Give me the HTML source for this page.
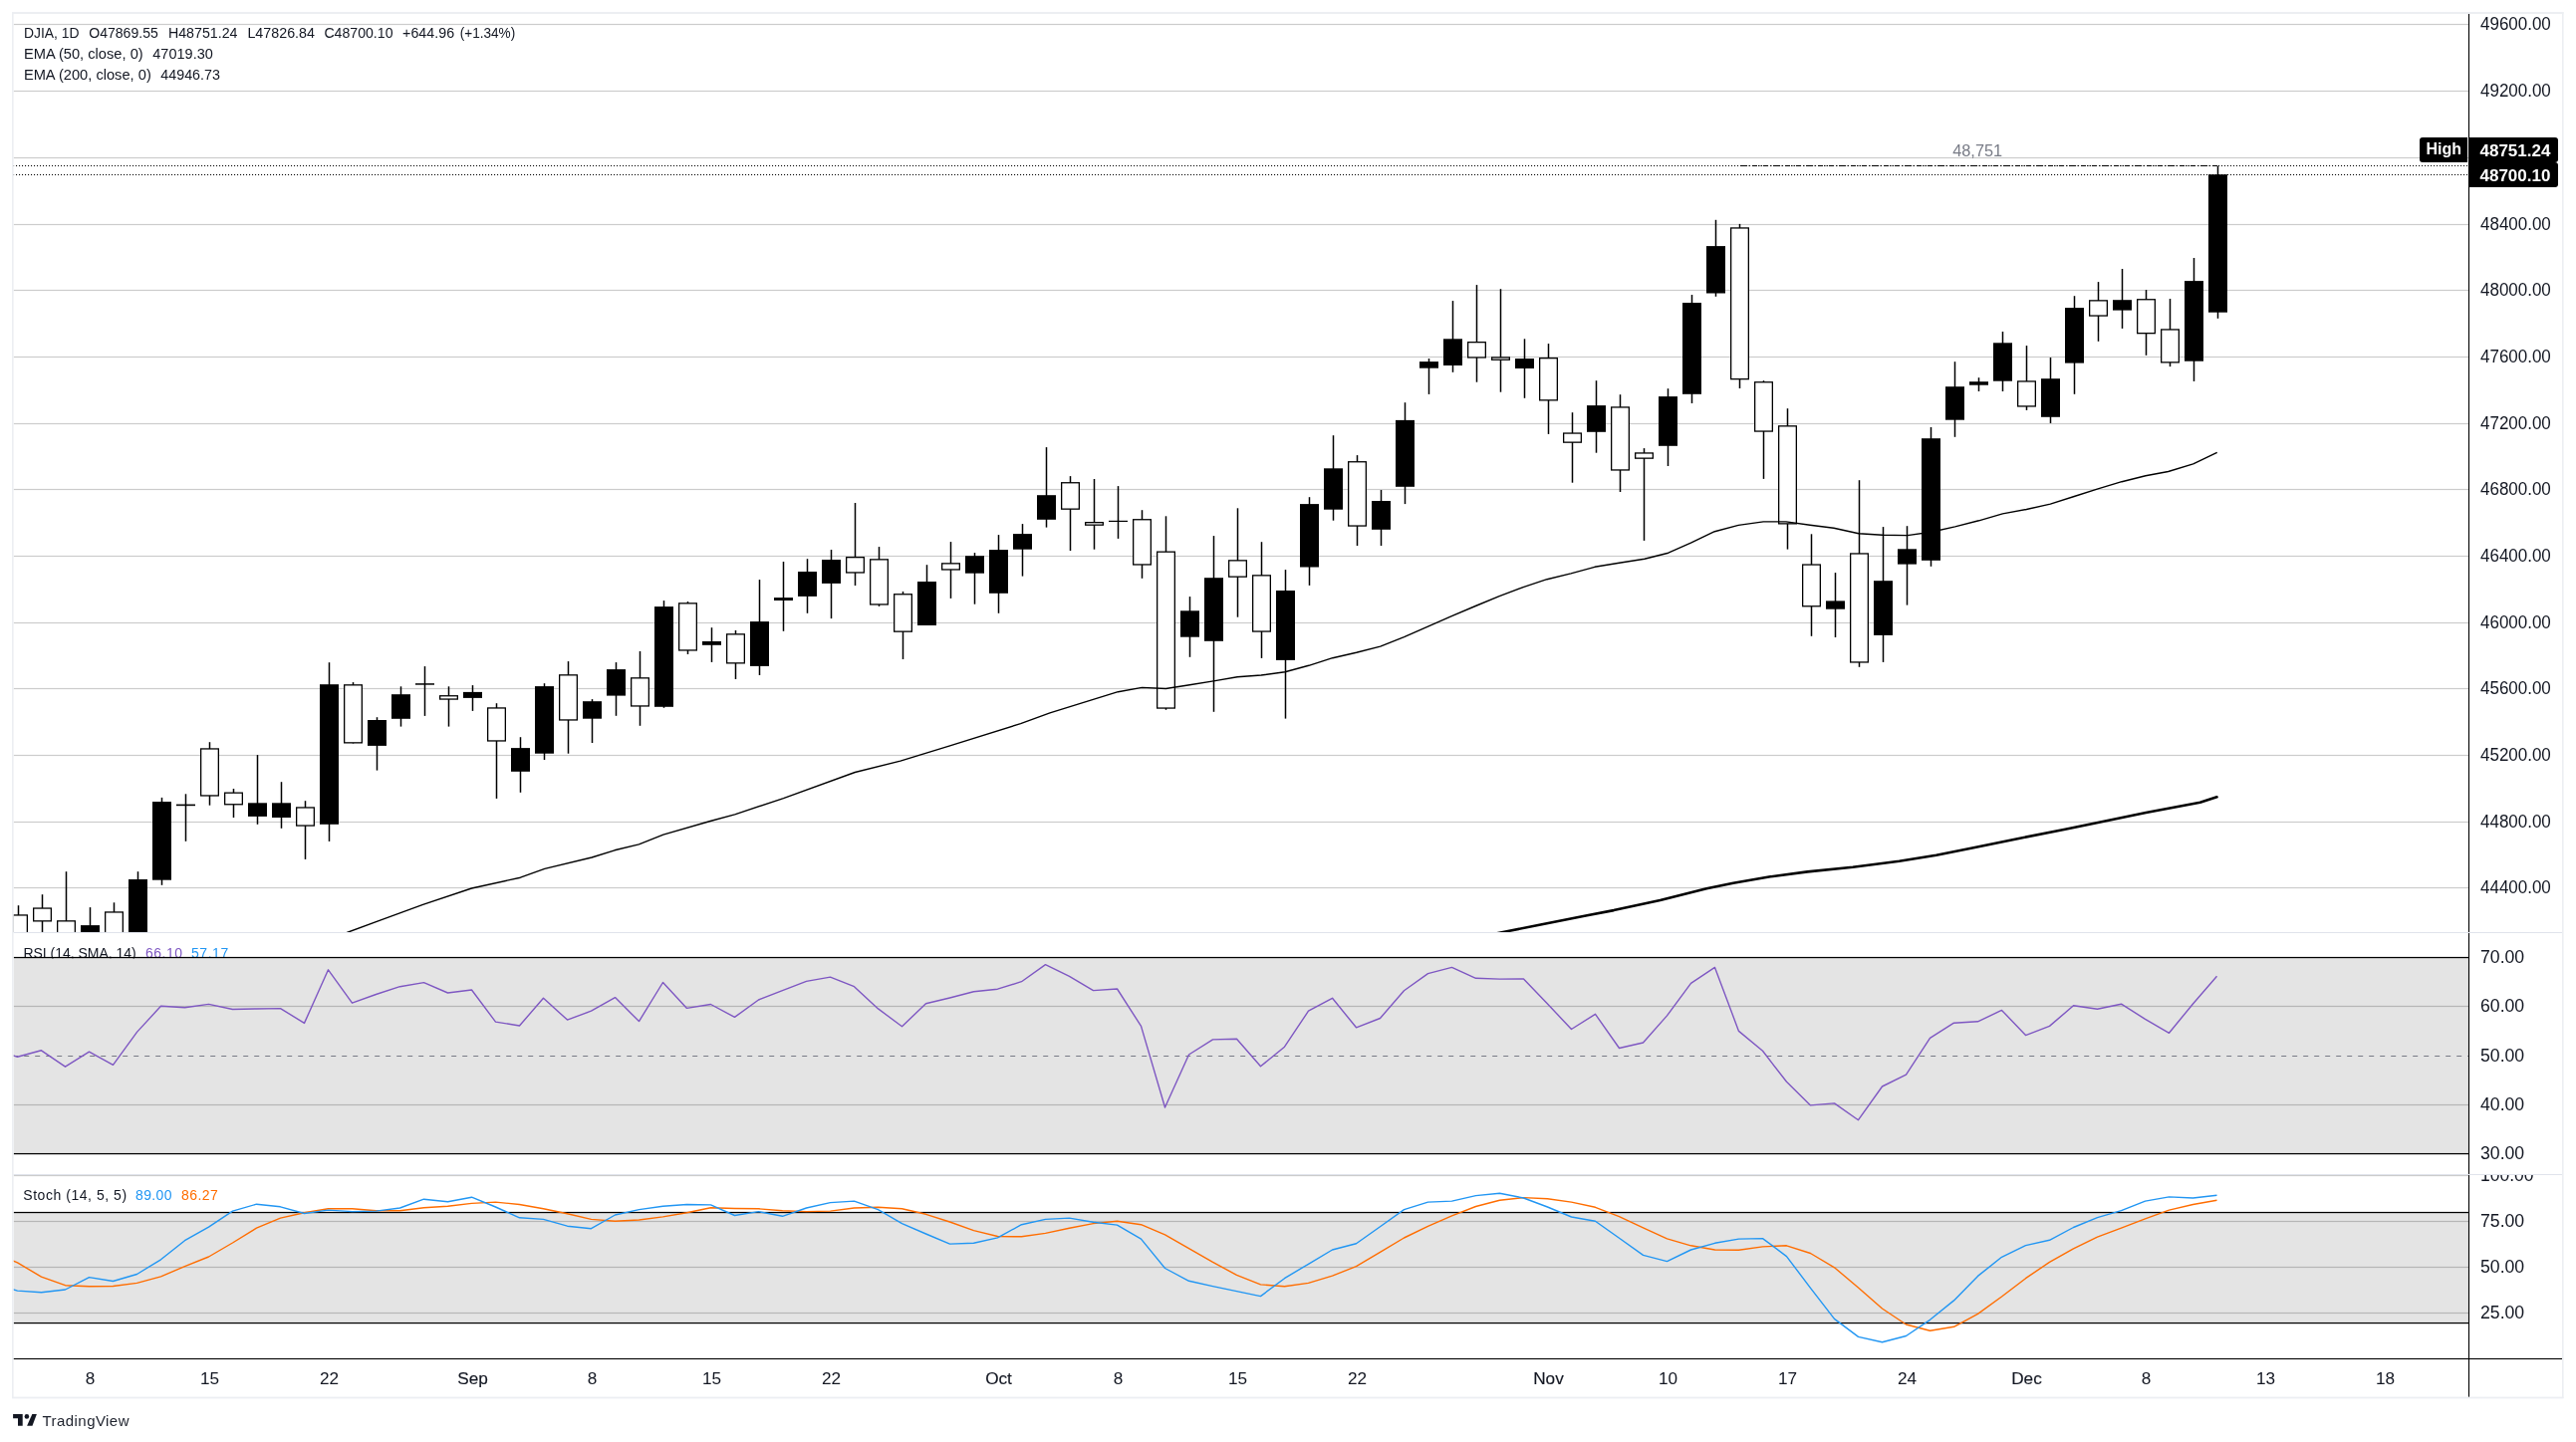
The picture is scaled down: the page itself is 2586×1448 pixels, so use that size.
<!DOCTYPE html><html><head><meta charset="utf-8"><style>html,body{margin:0;padding:0;background:#fff;}svg{display:block;will-change:transform;}text{font-family:"Liberation Sans",sans-serif;}</style></head><body>
<svg width="2586" height="1448" viewBox="0 0 2586 1448">
<defs><clipPath id="cm"><rect x="13.5" y="14" width="2464.5" height="922"/></clipPath><clipPath id="cr"><rect x="13.5" y="937" width="2464.5" height="243"/></clipPath><clipPath id="cs"><rect x="13.5" y="1180" width="2464.5" height="184"/></clipPath><clipPath id="cra"><rect x="2478.6" y="937" width="100" height="243"/></clipPath><clipPath id="csa"><rect x="2478.6" y="1180" width="100" height="184"/></clipPath></defs>
<rect x="0" y="0" width="2586" height="1448" fill="#ffffff"/>
<g clip-path="url(#cm)">
<rect x="13.5" y="23.9" width="2465.1" height="1.2" fill="rgba(0,0,0,0.2)"/>
<rect x="13.5" y="90.9" width="2465.1" height="1.2" fill="rgba(0,0,0,0.2)"/>
<rect x="13.5" y="157.9" width="2465.1" height="1.2" fill="rgba(0,0,0,0.2)"/>
<rect x="13.5" y="224.9" width="2465.1" height="1.2" fill="rgba(0,0,0,0.2)"/>
<rect x="13.5" y="290.9" width="2465.1" height="1.2" fill="rgba(0,0,0,0.2)"/>
<rect x="13.5" y="357.9" width="2465.1" height="1.2" fill="rgba(0,0,0,0.2)"/>
<rect x="13.5" y="424.9" width="2465.1" height="1.2" fill="rgba(0,0,0,0.2)"/>
<rect x="13.5" y="490.9" width="2465.1" height="1.2" fill="rgba(0,0,0,0.2)"/>
<rect x="13.5" y="557.9" width="2465.1" height="1.2" fill="rgba(0,0,0,0.2)"/>
<rect x="13.5" y="624.9" width="2465.1" height="1.2" fill="rgba(0,0,0,0.2)"/>
<rect x="13.5" y="690.9" width="2465.1" height="1.2" fill="rgba(0,0,0,0.2)"/>
<rect x="13.5" y="757.9" width="2465.1" height="1.2" fill="rgba(0,0,0,0.2)"/>
<rect x="13.5" y="824.9" width="2465.1" height="1.2" fill="rgba(0,0,0,0.2)"/>
<rect x="13.5" y="890.9" width="2465.1" height="1.2" fill="rgba(0,0,0,0.2)"/>
<line x1="13" y1="166.5" x2="2477" y2="166.5" stroke="#000" stroke-width="1.1" stroke-dasharray="1.1 1.9"/>
<line x1="13" y1="175.5" x2="2477" y2="175.5" stroke="#000" stroke-width="1.1" stroke-dasharray="1.1 1.9"/>
<line x1="1748" y1="166.5" x2="2227" y2="166.5" stroke="#000" stroke-width="1.2" stroke-dasharray="5 2.5 1 2.5"/>
<text x="1960.2" y="157.1" font-size="17" fill="#787b86" textLength="50" lengthAdjust="spacingAndGlyphs">48,751</text>
<rect x="17.75" y="909.2" width="1.5" height="60.8" fill="#000"/>
<rect x="9" y="918.3" width="19.0" height="41.7" fill="#000"/>
<rect x="10.3" y="919.6" width="16.4" height="39.1" fill="#fff"/>
<rect x="41.75" y="898.2" width="1.5" height="61.8" fill="#000"/>
<rect x="33" y="911.4" width="19.0" height="14.1" fill="#000"/>
<rect x="34.3" y="912.7" width="16.4" height="11.5" fill="#fff"/>
<rect x="65.75" y="875.2" width="1.5" height="94.8" fill="#000"/>
<rect x="57" y="924.2" width="19.0" height="35.8" fill="#000"/>
<rect x="58.3" y="925.5" width="16.4" height="33.2" fill="#fff"/>
<rect x="89.75" y="911.1" width="1.5" height="58.9" fill="#000"/>
<rect x="81" y="929.1" width="19.0" height="30.9" fill="#000"/>
<rect x="113.75" y="906.3" width="1.5" height="63.7" fill="#000"/>
<rect x="105" y="915.3" width="19.0" height="44.7" fill="#000"/>
<rect x="106.3" y="916.6" width="16.4" height="42.1" fill="#fff"/>
<rect x="137.75" y="875.2" width="1.5" height="94.8" fill="#000"/>
<rect x="129" y="883" width="19.0" height="77" fill="#000"/>
<rect x="161.75" y="800.9" width="1.5" height="87.9" fill="#000"/>
<rect x="153" y="805" width="19.0" height="78.7" fill="#000"/>
<rect x="185.75" y="797.3" width="1.5" height="47.5" fill="#000"/>
<rect x="177" y="807.6" width="19.0" height="1.6" fill="#000"/>
<rect x="209.75" y="745.2" width="1.5" height="63.5" fill="#000"/>
<rect x="201" y="751.3" width="19.0" height="48.3" fill="#000"/>
<rect x="202.3" y="752.6" width="16.4" height="45.7" fill="#fff"/>
<rect x="233.75" y="792" width="1.5" height="29" fill="#000"/>
<rect x="225" y="795.5" width="19.0" height="12.9" fill="#000"/>
<rect x="226.3" y="796.8" width="16.4" height="10.3" fill="#fff"/>
<rect x="257.75" y="758.1" width="1.5" height="69.7" fill="#000"/>
<rect x="249" y="806.3" width="19.0" height="13.6" fill="#000"/>
<rect x="281.75" y="785.2" width="1.5" height="46.6" fill="#000"/>
<rect x="273" y="806.3" width="19.0" height="14.7" fill="#000"/>
<rect x="305.75" y="804.2" width="1.5" height="58.7" fill="#000"/>
<rect x="297" y="810.3" width="19.0" height="19.4" fill="#000"/>
<rect x="298.3" y="811.6" width="16.4" height="16.8" fill="#fff"/>
<rect x="329.75" y="665.2" width="1.5" height="179.7" fill="#000"/>
<rect x="321" y="687.2" width="19.0" height="140.6" fill="#000"/>
<rect x="353.75" y="685.1" width="1.5" height="61.4" fill="#000"/>
<rect x="345" y="687.2" width="19.0" height="59.3" fill="#000"/>
<rect x="346.3" y="688.5" width="16.4" height="56.7" fill="#fff"/>
<rect x="377.75" y="720.2" width="1.5" height="53.4" fill="#000"/>
<rect x="369" y="723" width="19.0" height="25.9" fill="#000"/>
<rect x="401.75" y="689.3" width="1.5" height="40.3" fill="#000"/>
<rect x="393" y="697.2" width="19.0" height="24.6" fill="#000"/>
<rect x="425.75" y="669.1" width="1.5" height="49.8" fill="#000"/>
<rect x="417" y="686.2" width="19.0" height="1.5" fill="#000"/>
<rect x="449.75" y="689.3" width="1.5" height="40.3" fill="#000"/>
<rect x="441" y="698.1" width="19.0" height="4.6" fill="#000"/>
<rect x="442.3" y="699.4" width="16.4" height="2" fill="#fff"/>
<rect x="473.75" y="688.1" width="1.5" height="25.8" fill="#000"/>
<rect x="465" y="694.9" width="19.0" height="6" fill="#000"/>
<rect x="497.75" y="706.2" width="1.5" height="95.7" fill="#000"/>
<rect x="489" y="710.3" width="19.0" height="34.3" fill="#000"/>
<rect x="490.3" y="711.6" width="16.4" height="31.7" fill="#fff"/>
<rect x="521.75" y="740.2" width="1.5" height="55.6" fill="#000"/>
<rect x="513" y="751.1" width="19.0" height="23.7" fill="#000"/>
<rect x="545.75" y="686.2" width="1.5" height="76.8" fill="#000"/>
<rect x="537" y="689.1" width="19.0" height="67.6" fill="#000"/>
<rect x="569.75" y="664.1" width="1.5" height="92.6" fill="#000"/>
<rect x="561" y="677.2" width="19.0" height="46.4" fill="#000"/>
<rect x="562.3" y="678.5" width="16.4" height="43.8" fill="#fff"/>
<rect x="593.75" y="702.1" width="1.5" height="43.9" fill="#000"/>
<rect x="585" y="704.2" width="19.0" height="17.5" fill="#000"/>
<rect x="617.75" y="665.1" width="1.5" height="53.7" fill="#000"/>
<rect x="609" y="672.1" width="19.0" height="26.5" fill="#000"/>
<rect x="641.75" y="654" width="1.5" height="74.8" fill="#000"/>
<rect x="633" y="680.2" width="19.0" height="29.4" fill="#000"/>
<rect x="634.3" y="681.5" width="16.4" height="26.8" fill="#fff"/>
<rect x="665.75" y="603.1" width="1.5" height="107.7" fill="#000"/>
<rect x="657" y="609.1" width="19.0" height="100.7" fill="#000"/>
<rect x="689.75" y="604" width="1.5" height="53" fill="#000"/>
<rect x="681" y="605.2" width="19.0" height="48.4" fill="#000"/>
<rect x="682.3" y="606.5" width="16.4" height="45.8" fill="#fff"/>
<rect x="713.75" y="630.2" width="1.5" height="34.7" fill="#000"/>
<rect x="705" y="644" width="19.0" height="3.8" fill="#000"/>
<rect x="737.75" y="633" width="1.5" height="49" fill="#000"/>
<rect x="729" y="636.2" width="19.0" height="30.3" fill="#000"/>
<rect x="730.3" y="637.5" width="16.4" height="27.7" fill="#fff"/>
<rect x="761.75" y="582.1" width="1.5" height="95.9" fill="#000"/>
<rect x="753" y="624.1" width="19.0" height="44.8" fill="#000"/>
<rect x="785.75" y="564" width="1.5" height="69.8" fill="#000"/>
<rect x="777" y="600.1" width="19.0" height="2.9" fill="#000"/>
<rect x="809.75" y="561.2" width="1.5" height="54.6" fill="#000"/>
<rect x="801" y="574" width="19.0" height="24.9" fill="#000"/>
<rect x="833.75" y="552" width="1.5" height="69.1" fill="#000"/>
<rect x="825" y="562" width="19.0" height="23.9" fill="#000"/>
<rect x="857.75" y="505" width="1.5" height="83" fill="#000"/>
<rect x="849" y="559" width="19.0" height="16.6" fill="#000"/>
<rect x="850.3" y="560.3" width="16.4" height="14" fill="#fff"/>
<rect x="881.75" y="549.1" width="1.5" height="59.8" fill="#000"/>
<rect x="873" y="561.2" width="19.0" height="46.4" fill="#000"/>
<rect x="874.3" y="562.5" width="16.4" height="43.8" fill="#fff"/>
<rect x="905.75" y="594" width="1.5" height="68" fill="#000"/>
<rect x="897" y="596.1" width="19.0" height="38.7" fill="#000"/>
<rect x="898.3" y="597.4" width="16.4" height="36.1" fill="#fff"/>
<rect x="929.75" y="567.2" width="1.5" height="60.8" fill="#000"/>
<rect x="921" y="584" width="19.0" height="44" fill="#000"/>
<rect x="953.75" y="544.1" width="1.5" height="56.8" fill="#000"/>
<rect x="945" y="565.2" width="19.0" height="7.4" fill="#000"/>
<rect x="946.3" y="566.5" width="16.4" height="4.8" fill="#fff"/>
<rect x="977.75" y="555.1" width="1.5" height="51.6" fill="#000"/>
<rect x="969" y="558.2" width="19.0" height="17.5" fill="#000"/>
<rect x="1001.75" y="537.1" width="1.5" height="78.7" fill="#000"/>
<rect x="993" y="552.1" width="19.0" height="43.7" fill="#000"/>
<rect x="1025.75" y="526.1" width="1.5" height="52.5" fill="#000"/>
<rect x="1017" y="536.1" width="19.0" height="15.6" fill="#000"/>
<rect x="1049.75" y="449.1" width="1.5" height="80.5" fill="#000"/>
<rect x="1041" y="497.2" width="19.0" height="24.6" fill="#000"/>
<rect x="1073.75" y="478.1" width="1.5" height="74.9" fill="#000"/>
<rect x="1065" y="484.1" width="19.0" height="27.7" fill="#000"/>
<rect x="1066.3" y="485.4" width="16.4" height="25.1" fill="#fff"/>
<rect x="1097.75" y="481" width="1.5" height="70.7" fill="#000"/>
<rect x="1089" y="524" width="19.0" height="3.8" fill="#000"/>
<rect x="1090.3" y="525.3" width="16.4" height="1.2" fill="#fff"/>
<rect x="1121.75" y="488.1" width="1.5" height="52.8" fill="#000"/>
<rect x="1113" y="522.8" width="19.0" height="1.2" fill="#000"/>
<rect x="1145.75" y="512.2" width="1.5" height="68.6" fill="#000"/>
<rect x="1137" y="521.1" width="19.0" height="46.5" fill="#000"/>
<rect x="1138.3" y="522.4" width="16.4" height="43.9" fill="#fff"/>
<rect x="1169.75" y="518.3" width="1.5" height="194.5" fill="#000"/>
<rect x="1161" y="553.5" width="19.0" height="158.2" fill="#000"/>
<rect x="1162.3" y="554.8" width="16.4" height="155.6" fill="#fff"/>
<rect x="1193.75" y="599.1" width="1.5" height="60.7" fill="#000"/>
<rect x="1185" y="613.3" width="19.0" height="26.4" fill="#000"/>
<rect x="1217.75" y="538.1" width="1.5" height="176.7" fill="#000"/>
<rect x="1209" y="580.2" width="19.0" height="63.6" fill="#000"/>
<rect x="1241.75" y="510.3" width="1.5" height="109.4" fill="#000"/>
<rect x="1233" y="562.2" width="19.0" height="17.6" fill="#000"/>
<rect x="1234.3" y="563.5" width="16.4" height="15" fill="#fff"/>
<rect x="1265.75" y="544.2" width="1.5" height="116.7" fill="#000"/>
<rect x="1257" y="577.2" width="19.0" height="57.5" fill="#000"/>
<rect x="1258.3" y="578.5" width="16.4" height="54.9" fill="#fff"/>
<rect x="1289.75" y="572.1" width="1.5" height="149.5" fill="#000"/>
<rect x="1281" y="593" width="19.0" height="69.9" fill="#000"/>
<rect x="1313.75" y="499.2" width="1.5" height="88.7" fill="#000"/>
<rect x="1305" y="506.1" width="19.0" height="63.4" fill="#000"/>
<rect x="1337.75" y="437.2" width="1.5" height="85.5" fill="#000"/>
<rect x="1329" y="470.3" width="19.0" height="41.4" fill="#000"/>
<rect x="1361.75" y="457.1" width="1.5" height="90.9" fill="#000"/>
<rect x="1353" y="463.1" width="19.0" height="65.6" fill="#000"/>
<rect x="1354.3" y="464.4" width="16.4" height="63" fill="#fff"/>
<rect x="1385.75" y="492" width="1.5" height="56" fill="#000"/>
<rect x="1377" y="503" width="19.0" height="28.8" fill="#000"/>
<rect x="1409.75" y="404.2" width="1.5" height="101.9" fill="#000"/>
<rect x="1401" y="421.9" width="19.0" height="66.9" fill="#000"/>
<rect x="1433.75" y="360.1" width="1.5" height="35.8" fill="#000"/>
<rect x="1425" y="363.1" width="19.0" height="6.6" fill="#000"/>
<rect x="1457.75" y="302.1" width="1.5" height="71.7" fill="#000"/>
<rect x="1449" y="340.3" width="19.0" height="26.7" fill="#000"/>
<rect x="1481.75" y="286.1" width="1.5" height="97.6" fill="#000"/>
<rect x="1473" y="343" width="19.0" height="16.6" fill="#000"/>
<rect x="1474.3" y="344.3" width="16.4" height="14" fill="#fff"/>
<rect x="1505.75" y="290.2" width="1.5" height="103.5" fill="#000"/>
<rect x="1497" y="358.3" width="19.0" height="3.6" fill="#000"/>
<rect x="1498.3" y="359.6" width="16.4" height="1" fill="#fff"/>
<rect x="1529.75" y="340.3" width="1.5" height="59.5" fill="#000"/>
<rect x="1521" y="360.1" width="19.0" height="9.9" fill="#000"/>
<rect x="1553.75" y="345.1" width="1.5" height="90.8" fill="#000"/>
<rect x="1545" y="359" width="19.0" height="43.5" fill="#000"/>
<rect x="1546.3" y="360.3" width="16.4" height="40.9" fill="#fff"/>
<rect x="1577.75" y="414.2" width="1.5" height="70.5" fill="#000"/>
<rect x="1569" y="434.4" width="19.0" height="10.4" fill="#000"/>
<rect x="1570.3" y="435.7" width="16.4" height="7.8" fill="#fff"/>
<rect x="1601.75" y="382.2" width="1.5" height="72.5" fill="#000"/>
<rect x="1593" y="407.1" width="19.0" height="26.7" fill="#000"/>
<rect x="1625.75" y="396.2" width="1.5" height="97.8" fill="#000"/>
<rect x="1617" y="408.3" width="19.0" height="64.3" fill="#000"/>
<rect x="1618.3" y="409.6" width="16.4" height="61.7" fill="#fff"/>
<rect x="1649.75" y="450.1" width="1.5" height="92.8" fill="#000"/>
<rect x="1641" y="454.3" width="19.0" height="6.5" fill="#000"/>
<rect x="1642.3" y="455.6" width="16.4" height="3.9" fill="#fff"/>
<rect x="1673.75" y="390.2" width="1.5" height="77.8" fill="#000"/>
<rect x="1665" y="398.1" width="19.0" height="49.7" fill="#000"/>
<rect x="1697.75" y="296" width="1.5" height="109" fill="#000"/>
<rect x="1689" y="304" width="19.0" height="91.8" fill="#000"/>
<rect x="1721.75" y="220.8" width="1.5" height="77" fill="#000"/>
<rect x="1713" y="247.1" width="19.0" height="47.4" fill="#000"/>
<rect x="1745.75" y="224.9" width="1.5" height="165.1" fill="#000"/>
<rect x="1737" y="228.3" width="19.0" height="153" fill="#000"/>
<rect x="1738.3" y="229.6" width="16.4" height="150.4" fill="#fff"/>
<rect x="1769.75" y="382.2" width="1.5" height="98.7" fill="#000"/>
<rect x="1761" y="383.1" width="19.0" height="50.6" fill="#000"/>
<rect x="1762.3" y="384.4" width="16.4" height="48" fill="#fff"/>
<rect x="1793.75" y="410.2" width="1.5" height="141.4" fill="#000"/>
<rect x="1785" y="427.2" width="19.0" height="99.3" fill="#000"/>
<rect x="1786.3" y="428.5" width="16.4" height="96.7" fill="#fff"/>
<rect x="1817.75" y="536.3" width="1.5" height="102.5" fill="#000"/>
<rect x="1809" y="566.4" width="19.0" height="43" fill="#000"/>
<rect x="1810.3" y="567.7" width="16.4" height="40.4" fill="#fff"/>
<rect x="1841.75" y="575.1" width="1.5" height="64.9" fill="#000"/>
<rect x="1833" y="603.4" width="19.0" height="8.3" fill="#000"/>
<rect x="1865.75" y="482.2" width="1.5" height="187.6" fill="#000"/>
<rect x="1857" y="555.3" width="19.0" height="110.3" fill="#000"/>
<rect x="1858.3" y="556.6" width="16.4" height="107.7" fill="#fff"/>
<rect x="1889.75" y="529.1" width="1.5" height="135.8" fill="#000"/>
<rect x="1881" y="583.2" width="19.0" height="54.7" fill="#000"/>
<rect x="1913.75" y="528.2" width="1.5" height="79.4" fill="#000"/>
<rect x="1905" y="551.3" width="19.0" height="15.3" fill="#000"/>
<rect x="1937.75" y="429" width="1.5" height="139.8" fill="#000"/>
<rect x="1929" y="440.2" width="19.0" height="122.6" fill="#000"/>
<rect x="1961.75" y="363.2" width="1.5" height="75.6" fill="#000"/>
<rect x="1953" y="388.2" width="19.0" height="33.5" fill="#000"/>
<rect x="1985.75" y="379.2" width="1.5" height="13.8" fill="#000"/>
<rect x="1977" y="383.2" width="19.0" height="3.5" fill="#000"/>
<rect x="2009.75" y="333" width="1.5" height="60" fill="#000"/>
<rect x="2001" y="344.3" width="19.0" height="38.4" fill="#000"/>
<rect x="2033.75" y="347.1" width="1.5" height="64.8" fill="#000"/>
<rect x="2025" y="382.3" width="19.0" height="26.3" fill="#000"/>
<rect x="2026.3" y="383.6" width="16.4" height="23.7" fill="#fff"/>
<rect x="2057.75" y="359" width="1.5" height="66" fill="#000"/>
<rect x="2049" y="380.2" width="19.0" height="38.6" fill="#000"/>
<rect x="2081.75" y="297.2" width="1.5" height="98.6" fill="#000"/>
<rect x="2073" y="309.1" width="19.0" height="55.5" fill="#000"/>
<rect x="2105.75" y="283.1" width="1.5" height="59.7" fill="#000"/>
<rect x="2097" y="301.2" width="19.0" height="16.5" fill="#000"/>
<rect x="2098.3" y="302.5" width="16.4" height="13.9" fill="#fff"/>
<rect x="2129.75" y="270" width="1.5" height="59.9" fill="#000"/>
<rect x="2121" y="301.2" width="19.0" height="10.4" fill="#000"/>
<rect x="2153.75" y="291.1" width="1.5" height="65.7" fill="#000"/>
<rect x="2145" y="300.1" width="19.0" height="35.2" fill="#000"/>
<rect x="2146.3" y="301.4" width="16.4" height="32.6" fill="#fff"/>
<rect x="2177.75" y="300" width="1.5" height="68.1" fill="#000"/>
<rect x="2169" y="330.3" width="19.0" height="34.2" fill="#000"/>
<rect x="2170.3" y="331.6" width="16.4" height="31.6" fill="#fff"/>
<rect x="2201.75" y="259" width="1.5" height="123.9" fill="#000"/>
<rect x="2193" y="282.1" width="19.0" height="80.6" fill="#000"/>
<rect x="2225.75" y="166.7" width="1.5" height="153.1" fill="#000"/>
<rect x="2217" y="175.2" width="19.0" height="138.5" fill="#000"/>
<polyline points="330.5,943 349.6,936 378.9,925.2 424.6,908.3 473.5,892 522.4,881.2 546.8,872.4 594.1,861 617,853.8 641.4,847.9 665.9,838.2 713.1,824.5 737.6,817.9 786.5,801.6 858.3,775.5 903.9,764.1 952.8,749.1 1024.6,726.6 1054,715.9 1122.4,694.7 1146.5,690.4 1170.4,691.5 1194.3,687.8 1218.3,683.9 1242.2,679.8 1266.1,678 1290,674.8 1313.9,668.3 1337.8,660.7 1361.7,655.2 1385.7,649.1 1409.6,639.6 1433.5,629.1 1457.4,618.7 1481.3,608.5 1505.2,598.7 1529.1,589.6 1553,581.7 1577,575.9 1600.9,569.3 1627,565 1650.9,561.3 1674.8,555.2 1697.4,545.2 1721.3,533.7 1745.2,527.4 1770.2,523.9 1793,523.9 1817,527.2 1840.9,530.2 1865.9,535.7 1889.8,537.2 1914.8,537.6 1938.7,534.3 1962.6,528.9 1986.5,522.8 2010.4,515.9 2034.3,511.5 2058.3,506.1 2082.2,498.5 2106.1,490.9 2130,483.7 2153.9,477.8 2176.7,473.5 2201.7,465.9 2225.7,454.3" fill="none" stroke="#000" stroke-width="1.4" stroke-linejoin="round"/>
<polyline points="1490,939.8 1546.6,928.5 1593.2,919.2 1620,914.1 1666.6,904.1 1713.2,892.2 1740,886.75 1777.3,880.3 1814.5,875.4 1860,870.7 1906.6,864.8 1943.8,858.8 1980,851.5 2026.6,842 2073.2,832.7 2100,827.2 2154.3,816.1 2208.7,805.8 2225.5,800.3" fill="none" stroke="#000" stroke-width="2.6" stroke-linejoin="round" stroke-linecap="round"/>
</g>
<text x="23.9" y="37.8" font-size="15.4" fill="#131722" textLength="55.6" lengthAdjust="spacingAndGlyphs">DJIA, 1D</text>
<text x="89.2" y="37.8" font-size="15.4" fill="#131722" textLength="69.6" lengthAdjust="spacingAndGlyphs">O47869.55</text>
<text x="168.9" y="37.8" font-size="15.4" fill="#131722" textLength="69.6" lengthAdjust="spacingAndGlyphs">H48751.24</text>
<text x="248.4" y="37.8" font-size="15.4" fill="#131722" textLength="67.6" lengthAdjust="spacingAndGlyphs">L47826.84</text>
<text x="325.4" y="37.8" font-size="15.4" fill="#131722" textLength="69.1" lengthAdjust="spacingAndGlyphs">C48700.10</text>
<text x="404.1" y="37.8" font-size="15.4" fill="#131722" textLength="52" lengthAdjust="spacingAndGlyphs">+644.96</text>
<text x="461.7" y="37.8" font-size="15.4" fill="#131722" textLength="55.5" lengthAdjust="spacingAndGlyphs">(+1.34%)</text>
<text x="23.9" y="58.8" font-size="15.4" fill="#131722" textLength="119.8" lengthAdjust="spacingAndGlyphs">EMA (50, close, 0)</text>
<text x="153.3" y="58.8" font-size="15.4" fill="#131722" textLength="60.5" lengthAdjust="spacingAndGlyphs">47019.30</text>
<text x="23.9" y="80" font-size="15.4" fill="#131722" textLength="127.9" lengthAdjust="spacingAndGlyphs">EMA (200, close, 0)</text>
<text x="161.3" y="80" font-size="15.4" fill="#131722" textLength="59.6" lengthAdjust="spacingAndGlyphs">44946.73</text>
<g clip-path="url(#cr)">
<text x="23.4" y="961.6" font-size="14" fill="#131722" textLength="113.3" lengthAdjust="spacing">RSI (14, SMA, 14)</text>
<text x="146" y="961.6" font-size="14" fill="#7e57c2" textLength="37" lengthAdjust="spacing">66.10</text>
<text x="192" y="961.6" font-size="14" fill="#2196f3" textLength="37.2" lengthAdjust="spacing">57.17</text>
<rect x="13.5" y="962.5" width="2465.1" height="195" fill="#e4e4e4"/>
<rect x="13.5" y="1009.9" width="2465.1" height="1.2" fill="rgba(0,0,0,0.2)"/>
<rect x="13.5" y="1108.9" width="2465.1" height="1.2" fill="rgba(0,0,0,0.2)"/>
<line x1="13.2" y1="1060.5" x2="2478.6" y2="1060.5" stroke="#787b86" stroke-width="1.1" stroke-dasharray="5 6"/>
<rect x="13.5" y="960.9" width="2465.1" height="1.3" fill="#000"/>
<rect x="13.5" y="1157.9" width="2465.1" height="1.3" fill="#000"/>
<polyline points="-6.5,1052.7 17.5,1061.3 41.5,1054.8 65.5,1071.2 89.5,1056.2 113.5,1069.4 137.5,1036.4 161.5,1010.3 185.5,1011.7 209.5,1008.4 233.5,1013.5 257.5,1013 281.5,1012.6 305.5,1027.4 329.5,973.8 353.5,1007.2 377.5,998.5 401.5,990.7 425.5,986.6 449.5,997 473.5,994 497.5,1026.1 521.5,1030 545.5,1002.3 569.5,1024.1 593.5,1015.2 617.5,1001.6 641.5,1025.6 665.5,986.5 689.5,1012.4 713.5,1008.5 737.5,1021.4 761.5,1004 785.5,994.7 809.5,985.4 833.5,981.1 857.5,990.7 881.5,1012.9 905.5,1030.7 929.5,1007.8 953.5,1002 977.5,995.8 1001.5,993.2 1025.5,985.7 1049.5,968.6 1073.5,980.3 1097.5,994.6 1121.5,993 1145.5,1030.4 1169.5,1112 1193.5,1059 1217.5,1043.9 1241.5,1043.2 1265.5,1070.8 1289.5,1051.2 1313.5,1015.2 1337.5,1002.3 1361.5,1031.8 1385.5,1022.5 1409.5,994.7 1433.5,977.6 1457.5,971.4 1481.5,982.3 1505.5,983.1 1529.5,982.9 1553.5,1008 1577.5,1033.5 1601.5,1018.3 1625.5,1052.5 1649.5,1047 1673.5,1019.9 1697.5,987.3 1721.5,971.4 1745.5,1035.4 1769.5,1055.3 1793.5,1086.3 1817.5,1109.9 1841.5,1107.9 1865.5,1124.7 1889.5,1091 1913.5,1079.2 1937.5,1042.4 1961.5,1027.2 1985.5,1025.8 2009.5,1014.4 2033.5,1039.6 2057.5,1030.4 2081.5,1009.8 2105.5,1013.2 2129.5,1008.2 2153.5,1023.3 2177.5,1037.3 2201.5,1008 2225.5,980.3" fill="none" stroke="#7e57c2" stroke-width="1.4" stroke-linejoin="round"/>
</g>
<g clip-path="url(#cs)">
<text x="23.3" y="1204.8" font-size="14" fill="#131722" textLength="103.8" lengthAdjust="spacing">Stoch (14, 5, 5)</text>
<text x="136" y="1204.8" font-size="14" fill="#2196f3" textLength="36.5" lengthAdjust="spacing">89.00</text>
<text x="182" y="1204.8" font-size="14" fill="#ff6d00" textLength="36.7" lengthAdjust="spacing">86.27</text>
<rect x="13.5" y="1218.5" width="2465.1" height="109" fill="#e4e4e4"/>
<rect x="13.5" y="1179.9" width="2465.1" height="1.2" fill="rgba(0,0,0,0.2)"/>
<rect x="13.5" y="1225.9" width="2465.1" height="1.2" fill="rgba(0,0,0,0.2)"/>
<rect x="13.5" y="1271.9" width="2465.1" height="1.2" fill="rgba(0,0,0,0.2)"/>
<rect x="13.5" y="1317.9" width="2465.1" height="1.2" fill="rgba(0,0,0,0.2)"/>
<rect x="13.5" y="1216.9" width="2465.1" height="1.3" fill="#000"/>
<rect x="13.5" y="1327.9" width="2465.1" height="1.3" fill="#000"/>
<polyline points="-6.5,1258 17.5,1267.9 41.5,1282.1 65.5,1290.7 89.5,1291.8 113.5,1291.5 137.5,1288.4 161.5,1281.8 185.5,1271.6 209.5,1262 233.5,1248 257.5,1233.2 281.5,1223.1 305.5,1217.7 329.5,1213.8 353.5,1213.8 377.5,1215.7 401.5,1215.7 425.5,1212.7 449.5,1211.2 473.5,1208.4 497.5,1207.1 521.5,1209.5 545.5,1213.8 569.5,1218.8 593.5,1224.4 617.5,1226.2 641.5,1225 665.5,1221.9 689.5,1217.7 713.5,1212.7 737.5,1213.5 761.5,1213.8 785.5,1215.7 809.5,1216.6 833.5,1216.1 857.5,1213 881.5,1212.3 905.5,1213.8 929.5,1219.3 953.5,1227 977.5,1235.6 1001.5,1241.5 1025.5,1241.8 1049.5,1238.4 1073.5,1233.2 1097.5,1228.6 1121.5,1226.2 1145.5,1229.7 1169.5,1239.9 1193.5,1253.7 1217.5,1267.4 1241.5,1280.3 1265.5,1289.9 1289.5,1291.8 1313.5,1288.4 1337.5,1281.1 1361.5,1271.6 1385.5,1257.3 1409.5,1243 1433.5,1231.4 1457.5,1220.8 1481.5,1211.5 1505.5,1205.3 1529.5,1202.6 1553.5,1203.7 1577.5,1207.1 1601.5,1212.3 1625.5,1221.6 1649.5,1232.8 1673.5,1243.8 1697.5,1250.8 1721.5,1255 1745.5,1255.3 1769.5,1251.9 1793.5,1250.8 1817.5,1258.5 1841.5,1272.8 1865.5,1293 1889.5,1314 1913.5,1330 1937.5,1336.2 1961.5,1332.3 1985.5,1319.4 2009.5,1302 2033.5,1283.7 2057.5,1267.4 2081.5,1253.9 2105.5,1242.1 2129.5,1233.2 2153.5,1223.9 2177.5,1215.1 2201.5,1209.5 2225.5,1205.3" fill="none" stroke="#ff6d00" stroke-width="1.4" stroke-linejoin="round"/>
<polyline points="-6.5,1289 17.5,1296.1 41.5,1297.7 65.5,1295 89.5,1282.6 113.5,1286.5 137.5,1279.5 161.5,1264.8 185.5,1245.7 209.5,1232.1 233.5,1216.1 257.5,1209.2 281.5,1211.8 305.5,1218.5 329.5,1215.1 353.5,1216.6 377.5,1216.1 401.5,1213 425.5,1204.2 449.5,1206.8 473.5,1202.2 497.5,1212 521.5,1222.8 545.5,1224.4 569.5,1231.2 593.5,1233.7 617.5,1220 641.5,1214.6 665.5,1211.2 689.5,1209.5 713.5,1209.9 737.5,1220.5 761.5,1216.6 785.5,1221.3 809.5,1213 833.5,1207.6 857.5,1206.1 881.5,1214.6 905.5,1228.6 929.5,1239 953.5,1249.1 977.5,1248.3 1001.5,1242.9 1025.5,1229.7 1049.5,1224.4 1073.5,1223.1 1097.5,1227.3 1121.5,1230.1 1145.5,1244.1 1169.5,1273.5 1193.5,1286.3 1217.5,1291.6 1241.5,1296.6 1265.5,1301.6 1289.5,1283.7 1313.5,1269.3 1337.5,1255 1361.5,1248.8 1385.5,1231.7 1409.5,1214.6 1433.5,1207.1 1457.5,1206.1 1481.5,1200.6 1505.5,1198.3 1529.5,1203 1553.5,1212 1577.5,1222 1601.5,1226.2 1625.5,1243.3 1649.5,1260.4 1673.5,1266.6 1697.5,1255 1721.5,1248.3 1745.5,1244.1 1769.5,1243.6 1793.5,1261.6 1817.5,1293.3 1841.5,1324.4 1865.5,1342.4 1889.5,1347.8 1913.5,1341.5 1937.5,1325.3 1961.5,1305.9 1985.5,1281.4 2009.5,1262.3 2033.5,1250.6 2057.5,1245.3 2081.5,1232.5 2105.5,1222.7 2129.5,1215.7 2153.5,1206.1 2177.5,1201.9 2201.5,1203 2225.5,1200.2" fill="none" stroke="#2196f3" stroke-width="1.4" stroke-linejoin="round"/>
</g>
<rect x="2477.95" y="13" width="1.1" height="1391" fill="#000"/>
<rect x="13.5" y="936" width="2559.5" height="1" fill="#e0e3eb"/>
<rect x="13.5" y="1179" width="2559.5" height="1" fill="#e0e3eb"/>
<rect x="13.5" y="1363.95" width="2559.5" height="1.1" fill="#000"/>
<rect x="12" y="12" width="2561.5" height="2" fill="#eceef2"/>
<rect x="12" y="1402.6" width="2561.5" height="1.8" fill="#eceef2"/>
<rect x="12" y="12" width="1.6" height="1392" fill="#eceef2"/>
<rect x="2572" y="12" width="1.6" height="1392" fill="#eceef2"/>
<text x="2490" y="30" font-size="18" fill="#131722" textLength="70.8" lengthAdjust="spacingAndGlyphs">49600.00</text>
<text x="2490" y="97" font-size="18" fill="#131722" textLength="70.8" lengthAdjust="spacingAndGlyphs">49200.00</text>
<text x="2490" y="164" font-size="18" fill="#131722" textLength="70.8" lengthAdjust="spacingAndGlyphs">48800.00</text>
<text x="2490" y="231" font-size="18" fill="#131722" textLength="70.8" lengthAdjust="spacingAndGlyphs">48400.00</text>
<text x="2490" y="297" font-size="18" fill="#131722" textLength="70.8" lengthAdjust="spacingAndGlyphs">48000.00</text>
<text x="2490" y="364" font-size="18" fill="#131722" textLength="70.8" lengthAdjust="spacingAndGlyphs">47600.00</text>
<text x="2490" y="431" font-size="18" fill="#131722" textLength="70.8" lengthAdjust="spacingAndGlyphs">47200.00</text>
<text x="2490" y="497" font-size="18" fill="#131722" textLength="70.8" lengthAdjust="spacingAndGlyphs">46800.00</text>
<text x="2490" y="564" font-size="18" fill="#131722" textLength="70.8" lengthAdjust="spacingAndGlyphs">46400.00</text>
<text x="2490" y="631" font-size="18" fill="#131722" textLength="70.8" lengthAdjust="spacingAndGlyphs">46000.00</text>
<text x="2490" y="697" font-size="18" fill="#131722" textLength="70.8" lengthAdjust="spacingAndGlyphs">45600.00</text>
<text x="2490" y="764" font-size="18" fill="#131722" textLength="70.8" lengthAdjust="spacingAndGlyphs">45200.00</text>
<text x="2490" y="831" font-size="18" fill="#131722" textLength="70.8" lengthAdjust="spacingAndGlyphs">44800.00</text>
<text x="2490" y="897" font-size="18" fill="#131722" textLength="70.8" lengthAdjust="spacingAndGlyphs">44400.00</text>
<g clip-path="url(#cra)">
<text x="2490" y="967" font-size="18" fill="#131722" textLength="44.2" lengthAdjust="spacingAndGlyphs">70.00</text>
<text x="2490" y="1016" font-size="18" fill="#131722" textLength="44.2" lengthAdjust="spacingAndGlyphs">60.00</text>
<text x="2490" y="1066" font-size="18" fill="#131722" textLength="44.2" lengthAdjust="spacingAndGlyphs">50.00</text>
<text x="2490" y="1115" font-size="18" fill="#131722" textLength="44.2" lengthAdjust="spacingAndGlyphs">40.00</text>
<text x="2490" y="1164" font-size="18" fill="#131722" textLength="44.2" lengthAdjust="spacingAndGlyphs">30.00</text>
</g>
<g clip-path="url(#csa)">
<text x="2490" y="1186" font-size="18" fill="#131722" textLength="53.5" lengthAdjust="spacingAndGlyphs">100.00</text>
<text x="2490" y="1232" font-size="18" fill="#131722" textLength="44.2" lengthAdjust="spacingAndGlyphs">75.00</text>
<text x="2490" y="1278" font-size="18" fill="#131722" textLength="44.2" lengthAdjust="spacingAndGlyphs">50.00</text>
<text x="2490" y="1324" font-size="18" fill="#131722" textLength="44.2" lengthAdjust="spacingAndGlyphs">25.00</text>
</g>
<path d="M2432,138 H2477 V163 H2432 Q2429,163 2429,160 V141 Q2429,138 2432,138 Z" fill="#000"/>
<text x="2435.5" y="155" font-size="16" font-weight="bold" fill="#fff">High</text>
<path d="M2479,138 H2565 Q2568,138 2568,141 V160 Q2568,163 2565,163 H2479 Z" fill="#000"/>
<path d="M2479,163 H2565 Q2568,163 2568,166 V185 Q2568,188 2565,188 H2479 Z" fill="#000"/>
<text x="2489.5" y="157.2" font-size="17" font-weight="bold" fill="#fff">48751.24</text>
<text x="2489.5" y="182" font-size="17" font-weight="bold" fill="#fff">48700.10</text>
<text x="90.5" y="1390" font-size="17.2" text-anchor="middle" fill="#131722">8</text>
<text x="210.5" y="1390" font-size="17.2" text-anchor="middle" fill="#131722">15</text>
<text x="330.5" y="1390" font-size="17.2" text-anchor="middle" fill="#131722">22</text>
<text x="474.5" y="1390" font-size="17.2" text-anchor="middle" fill="#131722" stroke="#131722" stroke-width="0.15">Sep</text>
<text x="594.5" y="1390" font-size="17.2" text-anchor="middle" fill="#131722">8</text>
<text x="714.5" y="1390" font-size="17.2" text-anchor="middle" fill="#131722">15</text>
<text x="834.5" y="1390" font-size="17.2" text-anchor="middle" fill="#131722">22</text>
<text x="1002.5" y="1390" font-size="17.2" text-anchor="middle" fill="#131722" stroke="#131722" stroke-width="0.15">Oct</text>
<text x="1122.5" y="1390" font-size="17.2" text-anchor="middle" fill="#131722">8</text>
<text x="1242.5" y="1390" font-size="17.2" text-anchor="middle" fill="#131722">15</text>
<text x="1362.5" y="1390" font-size="17.2" text-anchor="middle" fill="#131722">22</text>
<text x="1554.5" y="1390" font-size="17.2" text-anchor="middle" fill="#131722" stroke="#131722" stroke-width="0.15">Nov</text>
<text x="1674.5" y="1390" font-size="17.2" text-anchor="middle" fill="#131722">10</text>
<text x="1794.5" y="1390" font-size="17.2" text-anchor="middle" fill="#131722">17</text>
<text x="1914.5" y="1390" font-size="17.2" text-anchor="middle" fill="#131722">24</text>
<text x="2034.5" y="1390" font-size="17.2" text-anchor="middle" fill="#131722" stroke="#131722" stroke-width="0.15">Dec</text>
<text x="2154.5" y="1390" font-size="17.2" text-anchor="middle" fill="#131722">8</text>
<text x="2274.5" y="1390" font-size="17.2" text-anchor="middle" fill="#131722">13</text>
<text x="2394.5" y="1390" font-size="17.2" text-anchor="middle" fill="#131722">18</text>
<g fill="#131722"><path d="M13.1,1420 H22.7 V1431.8 H18 V1424.2 H13.1 Z"/><circle cx="26.9" cy="1422.4" r="2.3"/><path d="M32.3,1420 H36.9 L32.5,1431.8 H27.1 Z"/></g>
<text x="42.5" y="1431.8" font-size="15" fill="#1e222d" textLength="87" lengthAdjust="spacing">TradingView</text>
</svg></body></html>
